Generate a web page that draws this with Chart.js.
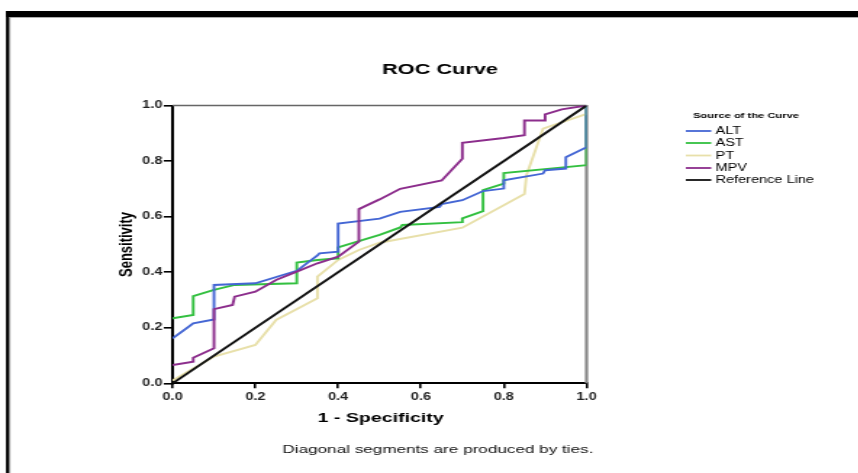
<!DOCTYPE html>
<html>
<head>
<meta charset="utf-8">
<script src="https://cdn.jsdelivr.net/npm/chart.js@4.4.1/dist/chart.umd.min.js"></script>
<style>
  html, body { margin: 0; padding: 0; background: #fff; overflow: hidden; }
  #wrap { position: absolute; left: 0; top: 0; width: 592px; height: 473px; transform: scaleX(1.45); transform-origin: 0 0; }
</style>
</head>
<body>
<div id="wrap"><canvas id="c" width="592" height="473"></canvas></div>
<script>
// ---- data ----
const chartTitle = 'ROC Curve';
const xAxisTitle = '1 - Specificity';
const yAxisTitle = 'Sensitivity';
const footnote = 'Diagonal segments are produced by ties.';
const legendTitle = 'Source of the Curve';
const seriesNames = ['ALT', 'AST', 'PT', 'MPV', 'Reference Line'];
const seriesColors = ['#4466d4', '#33c040', '#e8e0aa', '#8c2d8c', '#111111'];
const xTickLabels = ['0.0', '0.2', '0.4', '0.6', '0.8', '1.0'];
const yTickLabels = ['0.0', '0.2', '0.4', '0.6', '0.8', '1.0'];

const altFpr = [0, 0.05, 0.1, 0.1, 0.2, 0.3, 0.35, 0.355, 0.4, 0.4, 0.5, 0.55, 0.645, 0.65, 0.7, 0.75, 0.8, 0.8, 0.895, 0.9, 0.95, 0.95, 1, 1];
const altTpr = [0.162, 0.216, 0.23, 0.354, 0.36, 0.405, 0.46, 0.468, 0.474, 0.575, 0.593, 0.617, 0.635, 0.645, 0.659, 0.692, 0.701, 0.731, 0.755, 0.767, 0.773, 0.814, 0.85, 1];

const astFpr = [0, 0.05, 0.05, 0.1, 0.15, 0.3, 0.3, 0.35, 0.4, 0.4, 0.5, 0.55, 0.555, 0.7, 0.7, 0.75, 0.75, 0.8, 0.8, 1, 1];
const astTpr = [0.234, 0.246, 0.314, 0.336, 0.354, 0.36, 0.435, 0.444, 0.45, 0.489, 0.534, 0.561, 0.57, 0.58, 0.594, 0.62, 0.695, 0.719, 0.757, 0.785, 1];

const ptFpr = [0, 0.1, 0.2, 0.25, 0.35, 0.35, 0.4, 0.45, 0.5, 0.7, 0.85, 0.855, 0.895, 1, 1];
const ptTpr = [0.01, 0.096, 0.138, 0.228, 0.306, 0.384, 0.444, 0.48, 0.506, 0.56, 0.681, 0.75, 0.917, 0.97, 1];

const mpvFpr = [0, 0.05, 0.05, 0.1, 0.1, 0.145, 0.15, 0.2, 0.25, 0.3, 0.35, 0.4, 0.45, 0.45, 0.5, 0.55, 0.65, 0.7, 0.7, 0.8, 0.85, 0.85, 0.9, 0.9, 0.94, 1];
const mpvTpr = [0.066, 0.078, 0.092, 0.126, 0.267, 0.282, 0.312, 0.33, 0.372, 0.402, 0.432, 0.456, 0.51, 0.627, 0.662, 0.7, 0.73, 0.808, 0.866, 0.883, 0.893, 0.946, 0.946, 0.968, 0.986, 1];

const refFpr = [0, 1];
const refTpr = [0, 1];

// ---- build ----
function pts(xs, ys) { return xs.map((x, i) => ({ x: x, y: ys[i] })); }
const seriesData = [pts(altFpr, altTpr), pts(astFpr, astTpr), pts(ptFpr, ptTpr), pts(mpvFpr, mpvTpr), pts(refFpr, refTpr)];

// draw order: reference on top, then MPV etc.
const drawOrder = [4, 3, 0, 1, 2];
const datasets = drawOrder.map(i => ({
  label: seriesNames[i],
  data: seriesData[i],
  borderColor: seriesColors[i],
  backgroundColor: seriesColors[i],
  borderWidth: i === 4 ? 2 : 1.9,
  showLine: true,
  pointRadius: 0,
  fill: false,
  tension: 0
}));

const FONT = "'Liberation Sans', Arial, sans-serif";

const decor = {
  id: 'decor',
  beforeDraw(chart) {
    const ctx = chart.ctx;
    ctx.save();
    ctx.fillStyle = '#fff';
    ctx.fillRect(0, 0, chart.width, chart.height);
    // outer frame
    ctx.fillStyle = '#000';
    ctx.fillRect(4.1, 11, chart.width, 6);
    ctx.fillRect(4.1, 11, 2.4, chart.height);
    ctx.fillStyle = '#999';
    ctx.fillRect(6.5, 17, chart.width, 0.8);
    ctx.fillRect(6.5, 17, 0.6, chart.height);
    ctx.restore();
  },
  beforeDatasetsDraw(chart) {
    const ctx = chart.ctx;
    const a = chart.chartArea;
    ctx.save();
    ctx.strokeStyle = '#666';
    ctx.lineWidth = 1.3;
    ctx.beginPath();
    ctx.moveTo(a.left, a.top);
    ctx.lineTo(a.right, a.top);
    ctx.stroke();
    ctx.strokeStyle = '#888';
    ctx.lineWidth = 2.2;
    ctx.beginPath();
    ctx.moveTo(a.right, a.top - 0.6);
    ctx.lineTo(a.right, a.bottom);
    ctx.stroke();
    ctx.restore();
  },
  afterDraw(chart) {
    const ctx = chart.ctx;
    const a = chart.chartArea;
    ctx.save();
    ctx.fillStyle = '#000';
    ctx.textBaseline = 'middle';
    ctx.textAlign = 'center';
    // title
    ctx.font = 'bold 15px ' + FONT;
    ctx.fillText(chartTitle, 303.4, 70);
    // x axis title
    ctx.font = 'bold 13.5px ' + FONT;
    ctx.fillText(xAxisTitle, 262.4, 418);
    // footnote
    ctx.font = '11.8px ' + FONT;
    ctx.fillStyle = '#111';
    ctx.fillText(footnote, 302, 450);
    // y axis title
    ctx.save();
    ctx.translate(87, 244.5);
    ctx.rotate(-Math.PI / 2);
    ctx.font = 'bold 13px ' + FONT;
    ctx.fillStyle = '#000';
    ctx.fillText(yAxisTitle, 0, 0);
    ctx.restore();
    // legend
    ctx.fillStyle = '#000';
    ctx.font = 'bold 7.7px ' + FONT;
    ctx.fillText(legendTitle, 514.5, 116);
    ctx.textAlign = 'left';
    ctx.font = '10px ' + FONT;
    const rows = [131, 143, 155.5, 168, 180];
    for (let i = 0; i < seriesNames.length; i++) {
      ctx.strokeStyle = seriesColors[i];
      ctx.lineWidth = 1.8;
      ctx.beginPath();
      ctx.moveTo(473, rows[i]);
      ctx.lineTo(490.5, rows[i]);
      ctx.stroke();
      ctx.fillStyle = '#000';
      ctx.fillText(seriesNames[i], 493.5, rows[i] + 0.5);
    }
    ctx.restore();
  }
};

new Chart(document.getElementById('c'), {
  type: 'scatter',
  data: { datasets: datasets },
  plugins: [decor],
  options: {
    responsive: false,
    animation: false,
    devicePixelRatio: 1,
    layout: { padding: { left: 89, right: 187.5, top: 105.5, bottom: 69.7 } },
    plugins: { legend: { display: false }, title: { display: false }, tooltip: { enabled: false } },
    scales: {
      x: {
        type: 'linear', min: 0, max: 1,
        afterFit(s) { s.height = 20; },
        border: { display: true, color: '#000', width: 2 },
        grid: { drawOnChartArea: false, drawTicks: true, tickLength: 5, tickColor: '#000', lineWidth: 1.6 },
        ticks: { stepSize: 0.2, padding: 3, color: '#222', font: { family: FONT, size: 10, weight: 'bold' }, maxRotation: 0,
          callback: (v, i) => xTickLabels[i] }
      },
      y: {
        type: 'linear', min: 0, max: 1,
        afterFit(s) { s.width = 30; },
        border: { display: true, color: '#000', width: 2 },
        grid: { drawOnChartArea: false, drawTicks: true, tickLength: 6, tickColor: '#000', lineWidth: 1.6 },
        ticks: { stepSize: 0.2, padding: 1, color: '#222', font: { family: FONT, size: 10, weight: 'bold' },
          callback: (v, i) => yTickLabels[i] }
      }
    }
  }
});
</script>
</body>
</html>
